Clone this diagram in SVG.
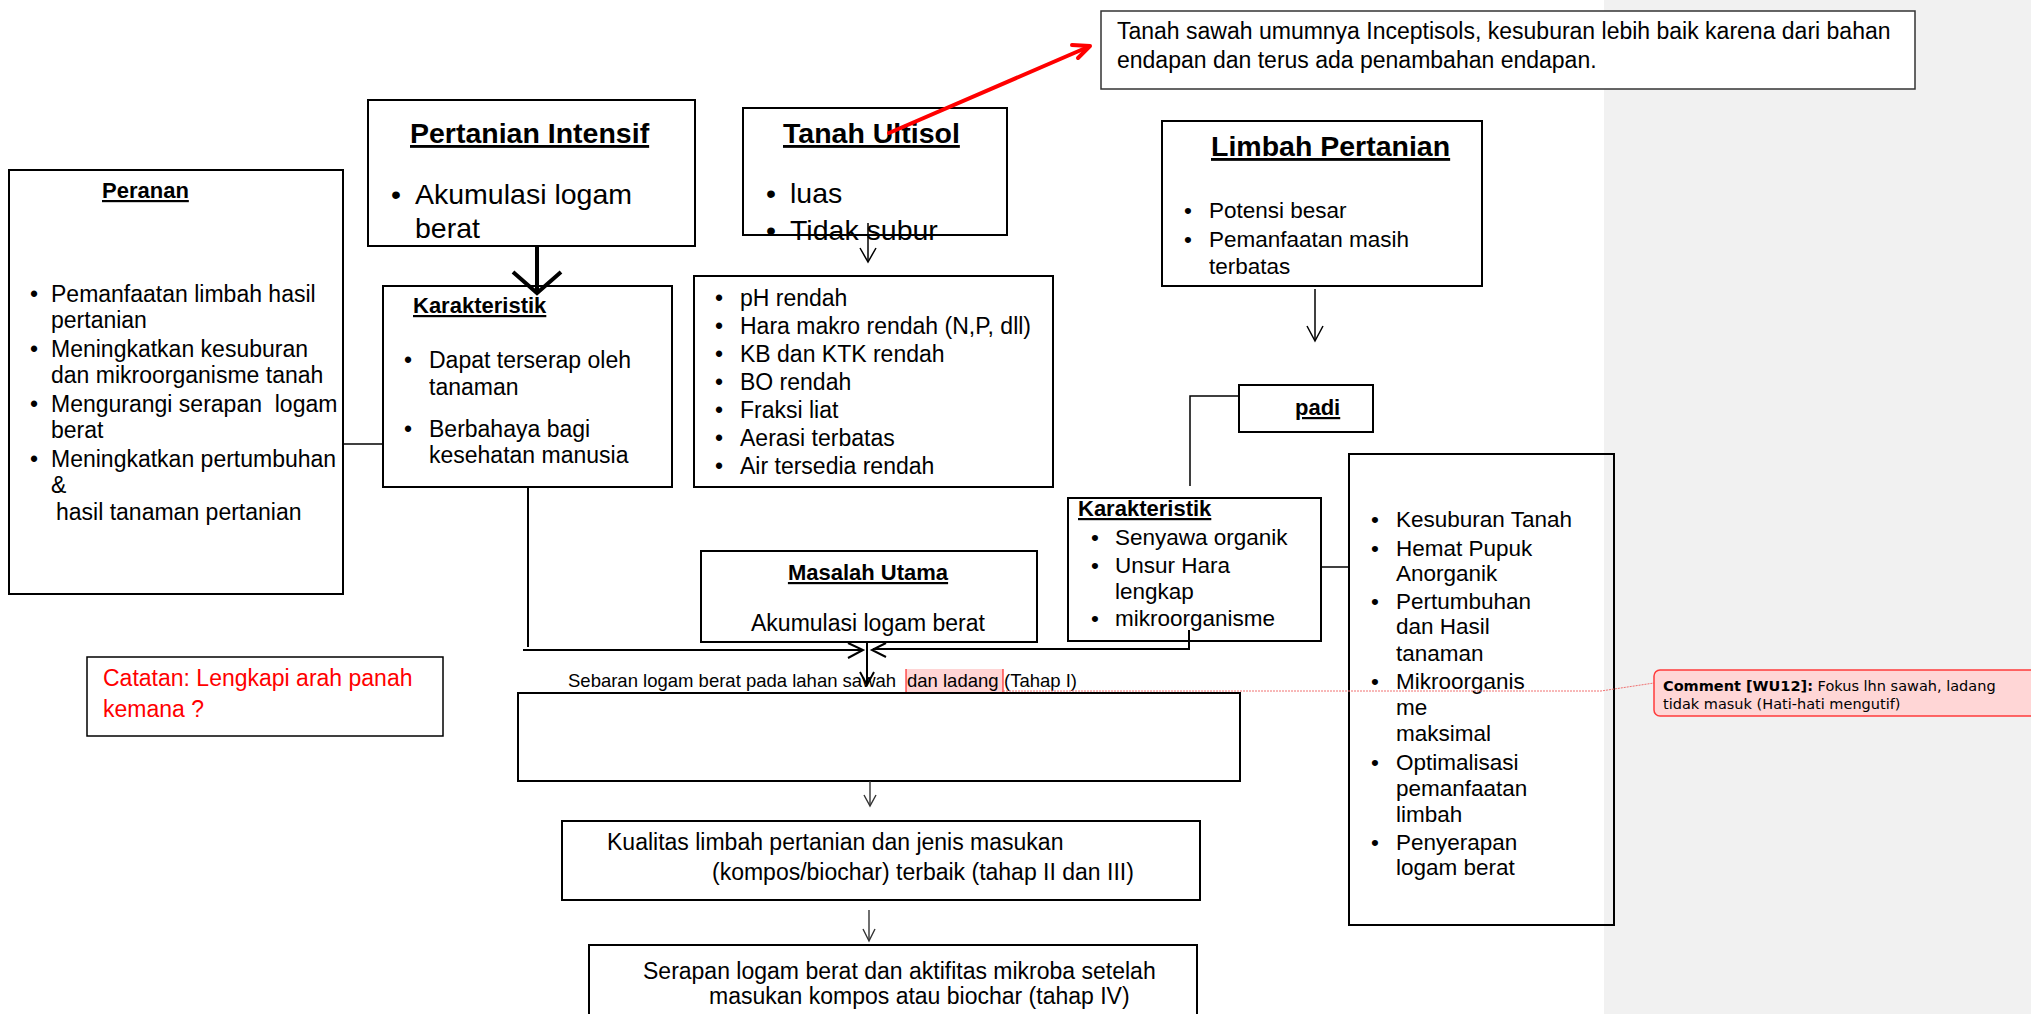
<svg xmlns="http://www.w3.org/2000/svg" width="2031" height="1014" viewBox="0 0 2031 1014">
<defs>
<style>
.box{fill:#fff;stroke:#000;stroke-width:2}
.t{font-family:"Liberation Sans",Arial,sans-serif;font-size:23px;fill:#000}
.s{font-size:22.5px}
.big{font-size:28.5px}
.title{font-family:"Liberation Sans",Arial,sans-serif;font-size:28.5px;font-weight:bold;text-decoration:underline;fill:#000}
.sub{font-family:"Liberation Sans",Arial,sans-serif;font-size:22px;font-weight:bold;text-decoration:underline;fill:#000}
.ln{fill:none;stroke:#000;stroke-width:2}
.thin{fill:none;stroke:#333;stroke-width:1.4}
.red{fill:none;stroke:#ff0000;stroke-width:4;stroke-linecap:round;stroke-linejoin:round}
.cm{font-family:"DejaVu Sans",Verdana,sans-serif;font-size:14.5px;fill:#000}
</style>
</defs>
<rect x="0" y="0" width="2031" height="1014" fill="#fff"/>
<rect x="1604" y="0" width="427" height="1014" fill="#f1f1f1"/>

<g id="note">
<rect class="box" x="1101" y="11" width="814" height="78" style="stroke:#333;stroke-width:1.5"/>
<text class="t" x="1117" y="39">Tanah sawah umumnya Inceptisols, kesuburan lebih baik karena dari bahan</text>
<text class="t" x="1117" y="68">endapan dan terus ada penambahan endapan.</text>
</g>

<g id="peranan">
<rect class="box" x="9" y="170" width="334" height="424"/>
<text class="sub" x="102" y="198">Peranan</text>
<g class="t">
<text x="30" y="302">•</text><text x="51" y="302">Pemanfaatan limbah hasil</text>
<text x="51" y="328">pertanian</text>
<text x="30" y="357">•</text><text x="51" y="357">Meningkatkan kesuburan</text>
<text x="51" y="383">dan mikroorganisme tanah</text>
<text x="30" y="412">•</text><text x="51" y="412" xml:space="preserve">Mengurangi serapan  logam</text>
<text x="51" y="438">berat</text>
<text x="30" y="467">•</text><text x="51" y="467">Meningkatkan pertumbuhan</text>
<text x="51" y="493">&amp;</text>
<text x="56" y="520">hasil tanaman pertanian</text>
</g>
</g>

<g id="pertanian-intensif">
<rect class="box" x="368" y="100" width="327" height="146"/>
<text class="title" x="410" y="143">Pertanian Intensif</text>
<g class="t big">
<text x="391" y="204">•</text><text x="415" y="204">Akumulasi logam</text>
<text x="415" y="238">berat</text>
</g>
</g>

<g id="karakteristik-logam">
<rect class="box" x="383" y="286" width="289" height="201"/>
<text class="sub" x="413" y="313">Karakteristik</text>
<g class="t">
<text x="404" y="368">•</text><text x="429" y="368">Dapat terserap oleh</text>
<text x="429" y="395">tanaman</text>
<text x="404" y="437">•</text><text x="429" y="437">Berbahaya bagi</text>
<text x="429" y="463">kesehatan manusia</text>
</g>
</g>

<g id="tanah-ultisol">
<rect class="box" x="743" y="108" width="264" height="127"/>
<text class="title" x="783" y="143">Tanah Ultisol</text>
<g class="t big">
<text x="766" y="203">•</text><text x="790" y="203">luas</text>
<text x="766" y="240">•</text><text x="790" y="240">Tidak subur</text>
</g>
<line x1="743" y1="235" x2="1007" y2="235" stroke="#000" stroke-width="2"/>
</g>

<g id="sifat-ultisol">
<rect class="box" x="694" y="276" width="359" height="211"/>
<g class="t">
<text x="715" y="306">•</text><text x="740" y="306">pH rendah</text>
<text x="715" y="334">•</text><text x="740" y="334">Hara makro rendah (N,P, dll)</text>
<text x="715" y="362">•</text><text x="740" y="362">KB dan KTK rendah</text>
<text x="715" y="390">•</text><text x="740" y="390">BO rendah</text>
<text x="715" y="418">•</text><text x="740" y="418">Fraksi liat</text>
<text x="715" y="446">•</text><text x="740" y="446">Aerasi terbatas</text>
<text x="715" y="474">•</text><text x="740" y="474">Air tersedia rendah</text>
</g>
</g>

<g id="limbah-pertanian">
<rect class="box" x="1162" y="121" width="320" height="165"/>
<text class="title" x="1211" y="156">Limbah Pertanian</text>
<g class="t s">
<text x="1184" y="218">•</text><text x="1209" y="218">Potensi besar</text>
<text x="1184" y="247">•</text><text x="1209" y="247">Pemanfaatan masih</text>
<text x="1209" y="274">terbatas</text>
</g>
</g>

<g id="padi">
<rect class="box" x="1239" y="385" width="134" height="47"/>
<text class="sub" x="1295" y="415">padi</text>
</g>

<g id="karakteristik-padi">
<rect class="box" x="1068" y="498" width="253" height="143"/>
<text class="sub" x="1078" y="516">Karakteristik</text>
<g class="t s">
<text x="1091" y="545">•</text><text x="1115" y="545">Senyawa organik</text>
<text x="1091" y="573">•</text><text x="1115" y="573">Unsur Hara</text>
<text x="1115" y="599">lengkap</text>
<text x="1091" y="626">•</text><text x="1115" y="626">mikroorganisme</text>
</g>
</g>

<g id="manfaat">
<rect x="1349" y="454" width="265" height="471" fill="none" stroke="#000" stroke-width="2"/>
<g class="t s">
<text x="1371" y="527">•</text><text x="1396" y="527">Kesuburan Tanah</text>
<text x="1371" y="556">•</text><text x="1396" y="556">Hemat Pupuk</text>
<text x="1396" y="581">Anorganik</text>
<text x="1371" y="609">•</text><text x="1396" y="609">Pertumbuhan</text>
<text x="1396" y="634">dan Hasil</text>
<text x="1396" y="661">tanaman</text>
<text x="1371" y="689">•</text><text x="1396" y="689">Mikroorganis</text>
<text x="1396" y="715">me</text>
<text x="1396" y="741">maksimal</text>
<text x="1371" y="770">•</text><text x="1396" y="770">Optimalisasi</text>
<text x="1396" y="796">pemanfaatan</text>
<text x="1396" y="822">limbah</text>
<text x="1371" y="850">•</text><text x="1396" y="850">Penyerapan</text>
<text x="1396" y="875">logam berat</text>
</g>
</g>

<g id="masalah-utama">
<rect class="box" x="701" y="551" width="336" height="91"/>
<text class="sub" x="868" y="580" text-anchor="middle">Masalah Utama</text>
<text class="t" x="868" y="631" text-anchor="middle">Akumulasi logam berat</text>
</g>

<g id="sebaran-label">
<rect x="906" y="669" width="97" height="23" fill="#ffd5d5"/>
<line x1="906" y1="669" x2="906" y2="692" stroke="#f00" stroke-width="1"/>
<line x1="1003" y1="669" x2="1003" y2="692" stroke="#f00" stroke-width="1"/>
<text class="t" style="font-size:18.5px" x="568" y="687">Sebaran logam berat pada lahan sawah <tspan x="907">dan ladang</tspan> <tspan x="1004">(Tahap I)</tspan></text>
</g>

<g id="tahap-1">
<rect class="box" x="518" y="693" width="722" height="88"/>
</g>

<g id="kualitas">
<rect class="box" x="562" y="821" width="638" height="79"/>
<text class="t" x="607" y="850">Kualitas limbah pertanian dan jenis masukan</text>
<text class="t" x="712" y="880">(kompos/biochar) terbaik (tahap II dan III)</text>
</g>

<g id="serapan">
<rect class="box" x="589" y="945" width="608" height="90"/>
<text class="t" x="643" y="979">Serapan logam berat dan aktifitas mikroba setelah</text>
<text class="t" x="709" y="1004">masukan kompos atau biochar (tahap IV)</text>
</g>

<g id="catatan">
<rect class="box" x="87" y="657" width="356" height="79" style="stroke-width:1.5"/>
<text class="t" x="103" y="686" style="fill:#ff0000">Catatan: Lengkapi arah panah</text>
<text class="t" x="103" y="717" style="fill:#ff0000">kemana ?</text>
</g>

<g id="connectors">
<path class="ln" d="M537,246 V291" style="stroke-width:4"/>
<path class="ln" d="M513,272 L537,293 L561,272" style="stroke-width:4"/>
<path class="red" d="M889,133 L1088,47"/>
<path class="red" d="M1072,45 L1090,46 L1078,58"/>
<path class="ln" d="M868,223 V261" style="stroke-width:1.5"/>
<path class="ln" d="M860,248 L868,262 L876,248" style="stroke-width:1.5"/>
<path class="ln" d="M1315,289 V340" style="stroke-width:1.5"/>
<path class="ln" d="M1307,326 L1315,341 L1323,326" style="stroke-width:1.5"/>
<path class="ln" d="M343,444 H383" style="stroke-width:1.5"/>
<path class="ln" d="M528,487 V647"/>
<path class="ln" d="M523,650 H862"/>
<path class="ln" d="M848,643 L863,650 L848,658"/>
<path class="ln" d="M1239,396 H1190 V486" style="stroke-width:1.5"/>
<path class="ln" d="M1321,567 H1349" style="stroke-width:1.5"/>
<path class="ln" d="M1189,630 V649 H873"/>
<path class="ln" d="M886,643 L872,650 L886,657"/>
<path class="ln" d="M867,642 V684"/>
<path class="ln" d="M860,672 L867,685 L874,672"/>
<path class="thin" d="M870,781 V805"/>
<path class="thin" d="M864,795 L870,806 L876,795"/>
<path class="thin" d="M869,910 V940"/>
<path class="thin" d="M863,929 L869,941 L875,929"/>
<path d="M1003,691 H1601 L1654,683" fill="none" stroke="#f07070" stroke-width="1" stroke-dasharray="2,1"/>
</g>

<g id="comment">
<rect x="1654" y="670" width="400" height="46" rx="6" fill="#ffd6d6" stroke="#ff3b3b" stroke-width="1.5"/>
<text class="cm" x="1663" y="691"><tspan font-weight="bold">Comment [WU12]:</tspan> Fokus lhn sawah, ladang</text>
<text class="cm" x="1663" y="709">tidak masuk (Hati-hati mengutif)</text>
</g>
</svg>
